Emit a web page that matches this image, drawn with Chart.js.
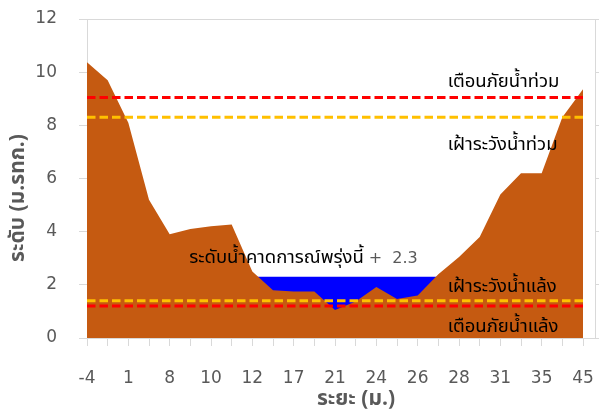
<!DOCTYPE html>
<html>
<head>
<meta charset="utf-8">
<script src="https://cdn.jsdelivr.net/npm/chart.js@4/dist/chart.umd.min.js"></script>
<style>
  html, body { margin: 0; padding: 0; background: #ffffff; }
  #wrap { width: 599px; height: 415px; position: relative; }
</style>
</head>
<body>
<div id="wrap"><canvas id="c"></canvas></div>
<script>
// Cross-section stations (m) and river-bed elevation (m MSL) at each station
const distances = [-4, -2, 1, 4, 8, 9, 10, 11, 12, 15, 17, 19, 21, 23, 24, 25, 26, 27, 28, 30, 31, 33, 35, 40, 45];
const bedLevels = [10.37, 9.7, 8.1, 5.2, 3.9, 4.1, 4.2, 4.27, 2.5, 1.8, 1.75, 1.75, 1.05, 1.37, 1.92, 1.47, 1.6, 2.4, 3.05, 3.8, 5.4, 6.2, 6.2, 8.3, 9.36];

// Tomorrow's forecast water level and the stations it spans
const forecastLevel = 2.3;
const wetStations = [8, 9, 10, 11, 12, 13, 14, 15, 16, 17];

// Alert thresholds (m MSL)
const floodWarning = 9.05;
const floodWatch = 8.3;
const droughtWatch = 1.4;
const droughtWarning = 1.2;

const yTickValues = [0, 2, 4, 6, 8, 10, 12];

const GREY = '#595959';
const AXIS = '#D9D9D9';
const LAST = distances.length - 1;
const XMAX = LAST + 0.58;
const THAI = "Tahoma, 'Noto Sans Thai', 'Noto Sans', 'DejaVu Sans', sans-serif";

const bedData = bedLevels.map((v, i) => ({ x: i, y: v }));
const waterData = wetStations.map(i => ({ x: i, y: forecastLevel }));
const flat = v => [{ x: 0, y: v }, { x: LAST, y: v }];

function dashed(label, value, color) {
  return {
    label, data: flat(value), borderColor: color, borderWidth: 3,
    borderDash: [8.5, 4], pointRadius: 0, fill: false, order: 1, borderCapStyle: 'butt'
  };
}

// scales sit flush with the plot area; no extra room for edge labels
function noPadding(s) {
  s.paddingTop = 0; s.paddingBottom = 0; s.paddingLeft = 0; s.paddingRight = 0;
}

const labelsPlugin = {
  id: 'sectionLabels',
  afterDatasetsDraw(chart) {
    const { ctx, scales: { x, y } } = chart;
    ctx.save();
    ctx.textBaseline = 'alphabetic';

    // threshold captions
    ctx.font = '18.5px ' + THAI;
    ctx.fillStyle = '#000000';
    ctx.textAlign = 'left';
    const lx = x.getPixelForValue(17.45);
    ctx.fillText('เตือนภัยน้ำท่วม', lx, y.getPixelForValue(floodWarning) - 10);
    ctx.fillText('เฝ้าระวังน้ำท่วม', lx, y.getPixelForValue(floodWatch) + 33);
    ctx.fillText('เฝ้าระวังน้ำแล้ง', lx, y.getPixelForValue(droughtWatch) - 9);
    ctx.fillText('เตือนภัยน้ำแล้ง', lx, y.getPixelForValue(droughtWarning) + 26);

    // forecast level caption
    const fy = y.getPixelForValue(forecastLevel) - 14;
    const rx = x.getPixelForValue(16);
    const valueText = '+  ' + forecastLevel.toFixed(1);
    ctx.font = '16px DejaVu Sans';
    const vw = ctx.measureText(valueText).width;
    ctx.textAlign = 'right';
    ctx.fillStyle = GREY;
    ctx.fillText(valueText, rx, fy);
    ctx.font = '18.5px ' + THAI;
    ctx.fillStyle = '#000000';
    ctx.fillText('ระดับน้ำคาดการณ์พรุ่งนี้ ', rx - vw, fy);

    // axis titles
    ctx.fillStyle = GREY;
    ctx.font = 'bold 21px ' + THAI;
    ctx.textAlign = 'center';
    ctx.textBaseline = 'middle';
    ctx.fillText('ระยะ (ม.)', 356, 401);
    ctx.translate(20, 198);
    ctx.rotate(-Math.PI / 2);
    ctx.fillText('ระดับ (ม.รทก.)', 0, 0);
    ctx.restore();
  }
};

new Chart(document.getElementById('c'), {
  type: 'line',
  data: {
    datasets: [
      dashed('เตือนภัยน้ำท่วม', floodWarning, '#FF0000'),
      dashed('เฝ้าระวังน้ำท่วม', floodWatch, '#FFC000'),
      dashed('เฝ้าระวังน้ำแล้ง', droughtWatch, '#FFC000'),
      dashed('เตือนภัยน้ำแล้ง', droughtWarning, '#FF0000'),
      {
        label: 'ท้องน้ำ', data: bedData, borderWidth: 0, pointRadius: 0,
        backgroundColor: '#C55A11', fill: 'origin', order: 2, tension: 0
      },
      {
        label: 'ระดับน้ำคาดการณ์', data: waterData, borderWidth: 0, pointRadius: 0,
        backgroundColor: '#0000FF', fill: 'origin', order: 3, tension: 0
      }
    ]
  },
  options: {
    responsive: true,
    maintainAspectRatio: false,
    animation: false,
    layout: { padding: 0 },
    plugins: { legend: { display: false }, tooltip: { enabled: false } },
    scales: {
      x: {
        type: 'linear', position: 'bottom', min: 0, max: XMAX,
        afterBuildTicks: s => { s.ticks = distances.map((d, i) => ({ value: i })); },
        afterFit: s => { s.height = 77; noPadding(s); },
        ticks: {
          autoSkip: false, maxRotation: 0, color: GREY, padding: 22,
          font: { family: 'DejaVu Sans', size: 17 },
          callback: v => (v % 2 === 0 ? String(distances[v]) : '')
        },
        grid: { drawOnChartArea: false, tickLength: 8, color: AXIS },
        border: { color: AXIS }
      },
      x2: {
        type: 'linear', position: 'top', min: 0, max: XMAX,
        afterBuildTicks: s => { s.ticks = []; },
        afterFit: s => { s.height = 19; noPadding(s); },
        ticks: { display: false },
        grid: { drawOnChartArea: false, drawTicks: false },
        border: { color: AXIS }
      },
      y: {
        min: 0, max: 12,
        afterBuildTicks: s => { s.ticks = yTickValues.map(v => ({ value: v })); },
        afterFit: s => { s.width = 87; noPadding(s); },
        ticks: { color: GREY, padding: 22, font: { family: 'DejaVu Sans', size: 17 } },
        grid: { drawOnChartArea: false, tickLength: 8, color: AXIS },
        border: { color: AXIS }
      },
      y2: {
        position: 'right', min: 0, max: 12,
        afterBuildTicks: s => { s.ticks = yTickValues.map(v => ({ value: v })); },
        afterFit: s => { s.width = 4; noPadding(s); },
        ticks: { display: false },
        grid: { drawOnChartArea: false, tickLength: 4, color: AXIS },
        border: { color: AXIS }
      }
    }
  },
  plugins: [labelsPlugin]
});
</script>
</body>
</html>
